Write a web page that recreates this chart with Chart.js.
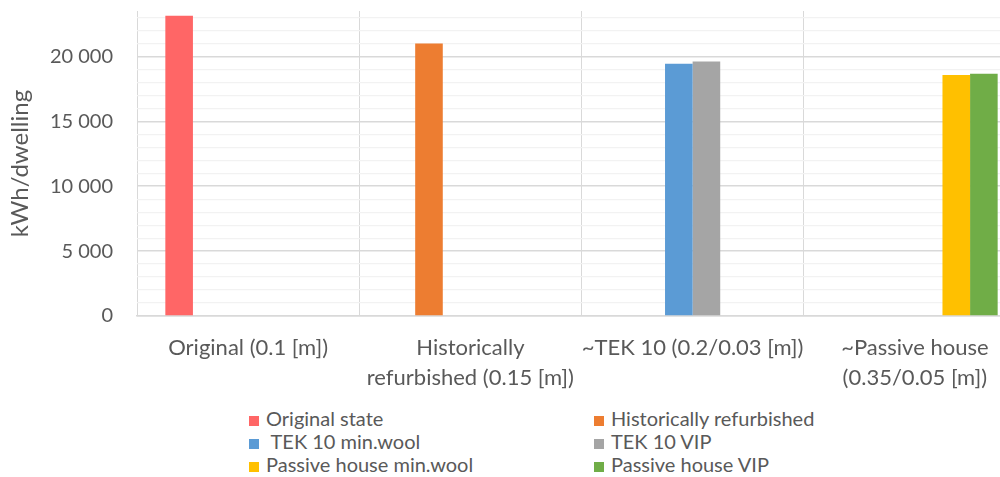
<!DOCTYPE html>
<html>
<head>
<meta charset="utf-8">
<script src="https://cdn.jsdelivr.net/npm/chart.js@4"></script>
<style>
  html, body { margin: 0; padding: 0; background: #fff; overflow: hidden; }
  #wrap { position: relative; width: 1000px; height: 477px; overflow: hidden; }
  #chart { position: absolute; left: 0; top: 0; }
  #legend { position: absolute; left: 0; top: 407px; font-family: Lato, sans-serif; font-size: 20px; color: #595959; }
  .item { position: absolute; white-space: pre; line-height: 23px; }
  .sw { display: inline-block; width: 10px; height: 10px; margin-right: 7px; }
</style>
</head>
<body>
<div id="wrap">
  <canvas id="chart" width="1026" height="400"></canvas>
  <div id="legend"></div>
</div>
<script>
// categories (x axis)
const categories = [
    'Original (0.1 [m])',
    ['Historically', 'refurbished (0.15 [m])'],
    '~TEK 10 (0.2/0.03 [m])',
    ['~Passive house', '(0.35/0.05 [m])']
];

// series, one value per category (null = no bar)
const seriesNames = ['Original state', 'Historically refurbished', ' TEK 10 min.wool', 'TEK 10 VIP', 'Passive house min.wool', 'Passive house VIP'];
const originalState = [23130, null, null, null];
const historicallyRefurbished = [null, 20990, null, null];
const tek10MinWool = [null, null, 19440, null];
const tek10Vip = [null, null, 19610, null];
const passiveMinWool = [null, null, null, 18570];
const passiveVip = [null, null, null, 18660];
const colors = ['#FF6666', '#ED7D31', '#5B9BD5', '#A5A5A5', '#FFC000', '#70AD47'];

// y axis: gridlines every 1000, labels every 5000
const yMax = 23500;
const yGridValues = [0, 1000, 2000, 3000, 4000, 5000, 6000, 7000, 8000, 9000, 10000, 11000,
                     12000, 13000, 14000, 15000, 16000, 17000, 18000, 19000, 20000, 21000, 22000, 23000];
const yLabelValues = [0, 5000, 10000, 15000, 20000];

const textColor = '#595959';

function fmt(v) {
    return String(v).replace(/\B(?=(\d{3})+(?!\d))/g, ' ');
}

window.onload = function() {
    const values = [originalState, historicallyRefurbished, tek10MinWool, tek10Vip, passiveMinWool, passiveVip];
    const datasets = values.map(function(v, i) {
        return {
            label: seriesNames[i],
            data: v,
            backgroundColor: colors[i],
            borderWidth: 0,
            barPercentage: 1.0,
            categoryPercentage: 0.745
        };
    });

    const chart = new Chart(document.getElementById('chart').getContext('2d'), {
        type: 'bar',
        data: { labels: categories, datasets: datasets },
        options: {
            responsive: false,
            animation: false,
            layout: { padding: { top: 11, right: 0, left: 0, bottom: 0 } },
            plugins: { legend: { display: false }, tooltip: { enabled: false } },
            scales: {
                x: {
                    grid: { color: '#D9D9D9', lineWidth: 1, drawTicks: false, offset: true },
                    border: { color: '#D9D9D9', width: 1.5 },
                    ticks: {
                        color: textColor,
                        font: { family: 'Lato', size: 22, lineHeight: 1.36 },
                        padding: 17,
                        maxRotation: 0,
                        autoSkip: false
                    },
                    afterFit: function(scale) { scale.height = 84; scale.paddingLeft = 0; scale.paddingRight = 0; }
                },
                y: {
                    min: 0,
                    max: yMax,
                    afterBuildTicks: function(scale) {
                        scale.ticks = yGridValues.map(function(v) { return { value: v }; });
                    },
                    grid: {
                        drawTicks: false,
                        color: function(ctx) {
                            return yLabelValues.includes(ctx.tick.value) ? '#D9D9D9' : '#F2F2F2';
                        },
                        lineWidth: function(ctx) {
                            return yLabelValues.includes(ctx.tick.value) ? 1.5 : 1.2;
                        }
                    },
                    border: { display: false },
                    ticks: {
                        autoSkip: false,
                        color: textColor,
                        font: { family: 'Lato', size: 20 },
                        padding: 24,
                        callback: function(v) { return yLabelValues.includes(v) ? fmt(v) : ''; }
                    },
                    title: {
                        display: true,
                        text: 'kWh/dwelling',
                        color: textColor,
                        font: { family: 'Lato', size: 24 },
                        padding: { top: 6, bottom: 0 }
                    },
                    afterFit: function(scale) { scale.width = 137; scale.paddingTop = 0; scale.paddingBottom = 0; }
                }
            }
        }
    });

    // two-column legend built from the chart's datasets
    const legend = document.getElementById('legend');
    chart.data.datasets.forEach(function(ds, i) {
        const el = document.createElement('div');
        el.className = 'item';
        el.style.left = (i % 2 ? 594 : 249) + 'px';
        el.style.top = (Math.floor(i / 2) * 23) + 'px';
        const sw = document.createElement('span');
        sw.className = 'sw';
        sw.style.background = ds.backgroundColor;
        el.appendChild(sw);
        el.appendChild(document.createTextNode(ds.label));
        legend.appendChild(el);
    });
};
</script>
</body>
</html>
